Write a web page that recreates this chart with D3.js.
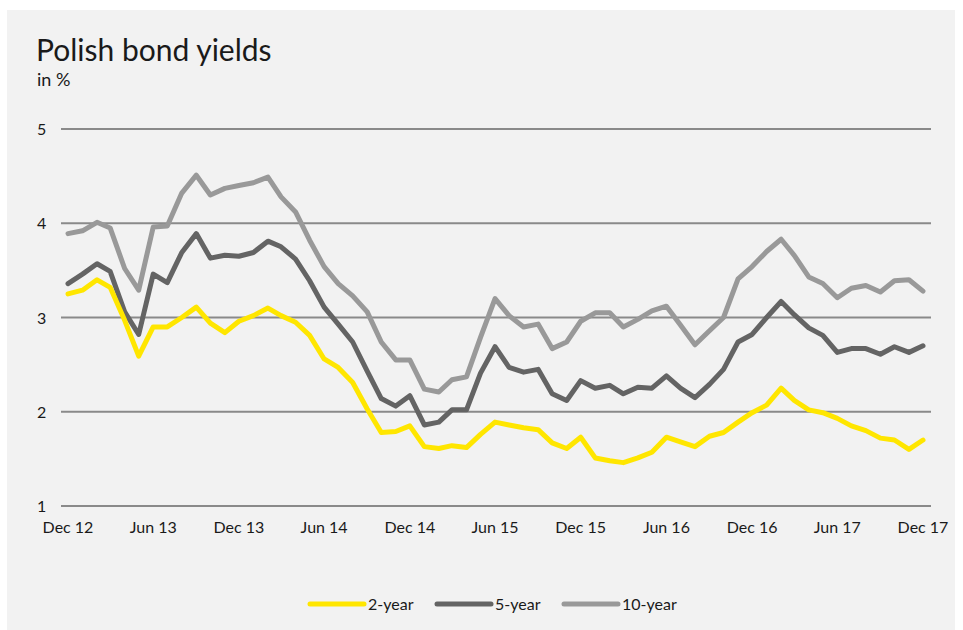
<!DOCTYPE html>
<html>
<head>
<meta charset="utf-8">
<script src="https://cdn.jsdelivr.net/npm/d3@7"></script>
<style>
  body { margin: 0; background: #ffffff; }
  svg { display: block; }
  text { font-family: Lato, "DejaVu Sans", sans-serif; fill: #1a1a1a; }
</style>
</head>
<body>
<div id="chart"></div>
<script>
// data: monthly yields, Dec 2012 - Dec 2017
var startMonth = new Date(2012, 11, 1);
var twoYear = [3.25, 3.29, 3.40, 3.32, 2.97, 2.59, 2.90, 2.90, 3.00, 3.11, 2.94, 2.84, 2.96,
  3.02, 3.10, 3.02, 2.95, 2.81, 2.56, 2.47, 2.31, 2.03, 1.78, 1.79, 1.85,
  1.63, 1.61, 1.64, 1.62, 1.76, 1.89, 1.86, 1.83, 1.81, 1.67, 1.61, 1.73,
  1.51, 1.48, 1.46, 1.51, 1.57, 1.73, 1.68, 1.63, 1.74, 1.78, 1.89, 1.99,
  2.07, 2.25, 2.12, 2.02, 1.99, 1.93, 1.85, 1.80, 1.72, 1.70, 1.60, 1.70];
var fiveYear = [3.36, 3.46, 3.57, 3.49, 3.06, 2.82, 3.46, 3.37, 3.69, 3.89, 3.63, 3.66, 3.65,
  3.69, 3.81, 3.75, 3.62, 3.39, 3.11, 2.93, 2.74, 2.43, 2.14, 2.06, 2.17,
  1.86, 1.89, 2.02, 2.02, 2.41, 2.69, 2.47, 2.42, 2.45, 2.19, 2.12, 2.33,
  2.25, 2.28, 2.19, 2.26, 2.25, 2.38, 2.25, 2.15, 2.29, 2.45, 2.74, 2.82,
  3.00, 3.17, 3.03, 2.89, 2.81, 2.63, 2.67, 2.67, 2.61, 2.69, 2.63, 2.70];
var tenYear = [3.89, 3.92, 4.01, 3.95, 3.52, 3.29, 3.96, 3.97, 4.32, 4.51, 4.30, 4.37, 4.40,
  4.43, 4.49, 4.28, 4.12, 3.82, 3.54, 3.36, 3.23, 3.06, 2.74, 2.55, 2.55,
  2.24, 2.21, 2.34, 2.37, 2.79, 3.20, 3.02, 2.90, 2.93, 2.67, 2.74, 2.96,
  3.05, 3.05, 2.90, 2.98, 3.07, 3.12, 2.92, 2.71, 2.86, 3.00, 3.41, 3.54,
  3.70, 3.83, 3.66, 3.43, 3.36, 3.21, 3.31, 3.34, 3.27, 3.39, 3.40, 3.28];
var seriesNames = ["2-year", "5-year", "10-year"];
var seriesColors = ["#ffe600", "#646464", "#999999"];
var yTicks = [1, 2, 3, 4, 5];
var xTickLabels = ["Dec 12", "Jun 13", "Dec 13", "Jun 14", "Dec 14", "Jun 15",
  "Dec 15", "Jun 16", "Dec 16", "Jun 17", "Dec 17"];

var svgWidth = 963;
var svgHeight = 630;

var svg = d3.select("#chart")
            .append("svg")
            .attr("width", svgWidth)
            .attr("height", svgHeight);

// panel background
svg.append("rect")
   .attr("x", 7)
   .attr("y", 10)
   .attr("width", 948)
   .attr("height", 620)
   .attr("fill", "#f2f2f2");

// titles
svg.append("text")
   .attr("x", 36)
   .attr("y", 61)
   .attr("font-size", 30)
   .text("Polish bond yields");

svg.append("text")
   .attr("x", 37)
   .attr("y", 86)
   .attr("font-size", 18)
   .text("in %");

var months = twoYear.map((d, i) => d3.timeMonth.offset(startMonth, i));

var xScale = d3.scaleTime()
               .domain([months[0], months[months.length - 1]])
               .range([68, 923]);

var yScale = d3.scaleLinear()
               .domain([1, 5])
               .range([506, 129]);

// grid lines + y labels
svg.selectAll(".grid")
   .data(yTicks)
   .enter()
   .append("line")
   .attr("x1", 61)
   .attr("x2", 931)
   .attr("y1", d => yScale(d))
   .attr("y2", d => yScale(d))
   .attr("stroke", "#8a8a8a")
   .attr("stroke-width", 2);

svg.selectAll(".ylab")
   .data(yTicks)
   .enter()
   .append("text")
   .attr("x", 37)
   .attr("y", d => yScale(d) + 6)
   .attr("font-size", 16)
   .text(d => d);

// x labels every 6 months
var xTickDates = xTickLabels.map((d, i) => d3.timeMonth.offset(startMonth, i * 6));
svg.selectAll(".xlab")
   .data(xTickDates)
   .enter()
   .append("text")
   .attr("x", d => xScale(d))
   .attr("y", 533)
   .attr("text-anchor", "middle")
   .attr("font-size", 16)
   .text((d, i) => xTickLabels[i]);

// lines (10-year drawn first, 2-year on top)
var allSeries = [twoYear, fiveYear, tenYear];
var line = d3.line()
             .x((d, i) => xScale(months[i]))
             .y(d => yScale(d));

[2, 1, 0].forEach(function(k) {
  svg.append("path")
     .datum(allSeries[k])
     .attr("d", line)
     .attr("fill", "none")
     .attr("stroke", seriesColors[k])
     .attr("stroke-width", 5)
     .attr("stroke-linejoin", "round")
     .attr("stroke-linecap", "round");
});

// legend
var legendX = [310, 437, 564];
var legend = svg.selectAll(".legend")
                .data(seriesNames)
                .enter()
                .append("g")
                .attr("transform", (d, i) => `translate(${legendX[i]}, 604)`);

legend.append("line")
      .attr("x1", 0)
      .attr("x2", 54)
      .attr("stroke", (d, i) => seriesColors[i])
      .attr("stroke-width", 5)
      .attr("stroke-linecap", "round");

legend.append("text")
      .attr("x", 58)
      .attr("y", 6)
      .attr("font-size", 16)
      .text(d => d);
</script>
</body>
</html>
